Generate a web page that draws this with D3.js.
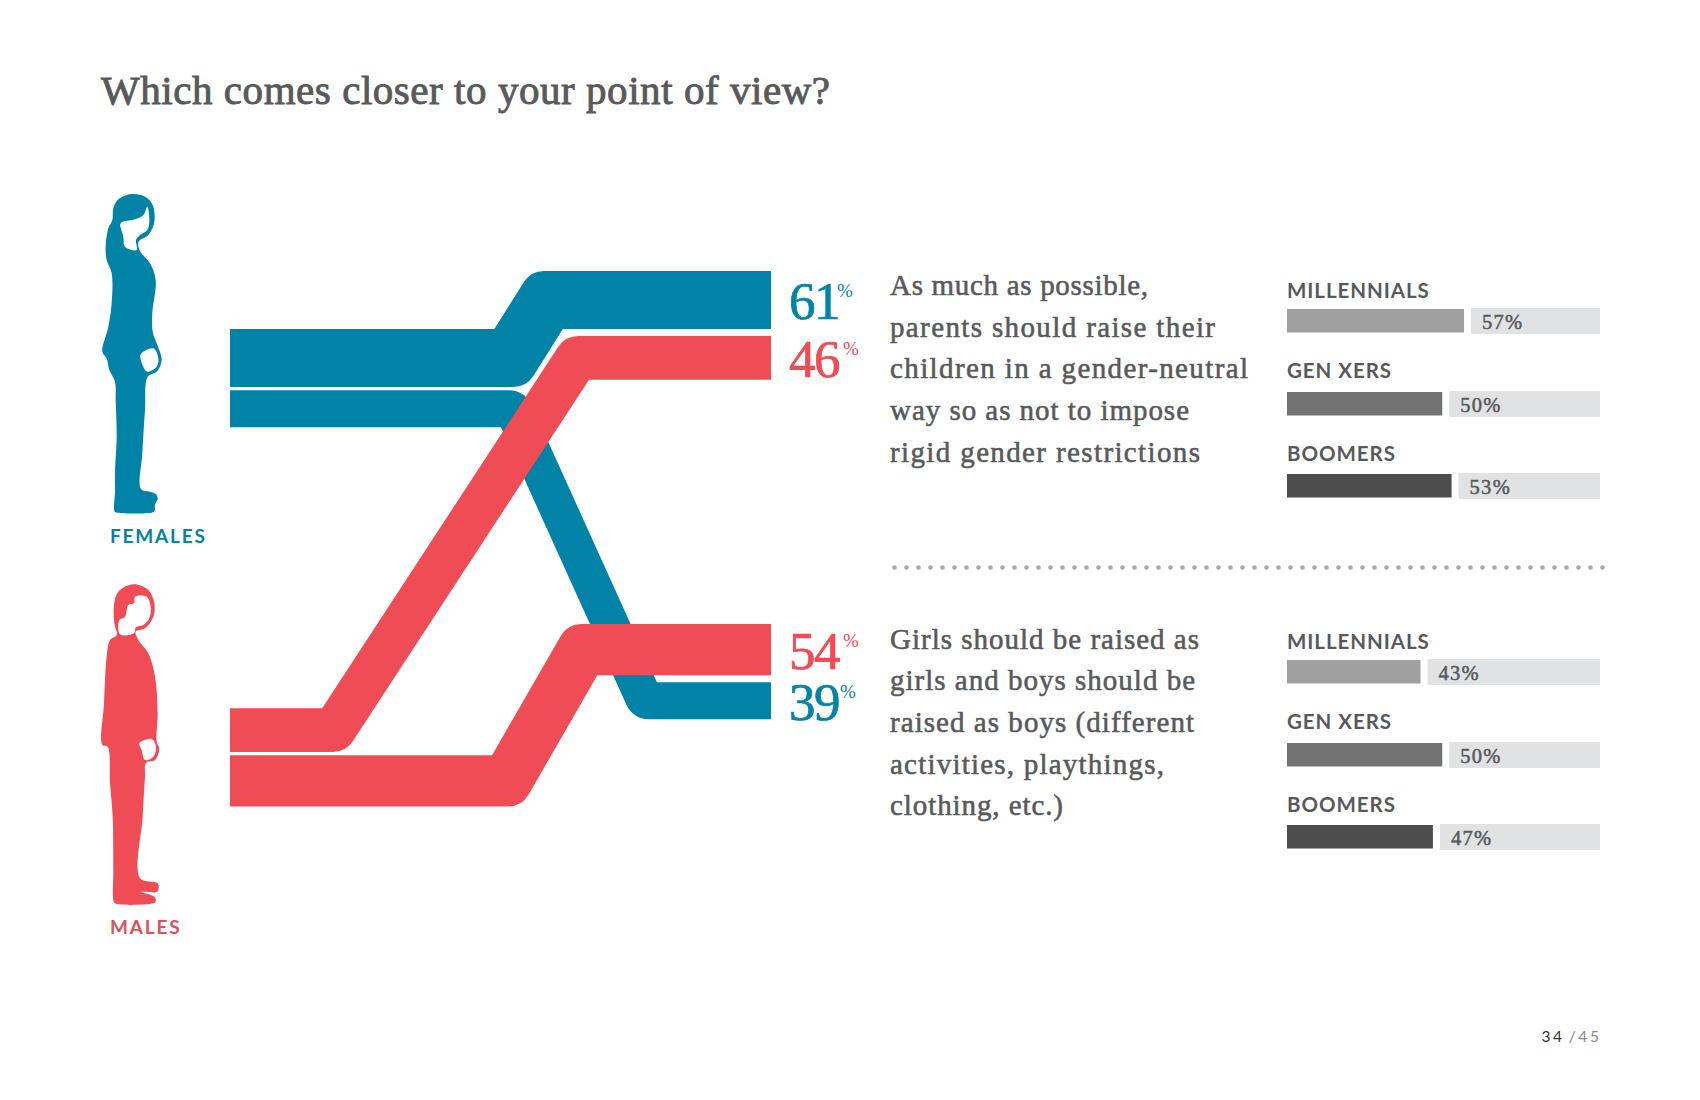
<!DOCTYPE html>
<html>

<head>
  <meta charset='utf-8'>
  <style>
    html, body { margin: 0; padding: 0; background: #fff; }
    svg { display: block; }
    .serif { font-family: 'Liberation Serif', serif; }
    .sans { font-family: Lato, 'Open Sans', sans-serif; }
  </style>
  <script src='https://cdn.jsdelivr.net/npm/d3@7'></script>
</head>

<body>

  <script type='module'>

    let [width, height] = [1700, 1100]

    let title = "Which comes closer to your point of view?"
    let genders = ["FEMALES", "MALES"]
    let femaleShare = [61, 39]
    let maleShare = [46, 54]
    let statements = [
      ["As much as possible,", "parents should raise their", "children in a gender-neutral", "way so as not to impose", "rigid gender restrictions"],
      ["Girls should be raised as", "girls and boys should be", "raised as boys (different", "activities, playthings,", "clothing, etc.)"]
    ]
    let cohorts = ["MILLENNIALS", "GEN XERS", "BOOMERS"]
    let neutralByCohort = [57, 50, 53]
    let differentByCohort = [43, 50, 47]
    let pageNow = "34"
    let pageAll = "/45"

    let teal = "#0083a7"
    let red = "#ef4c55"
    let ink = "#58595b"
    let cohortColor = d3.scaleOrdinal(cohorts, ["#a0a0a0", "#737373", "#4d4d4d"])

    let svg = d3.select("body")
      .append("svg")
      .attr("width", width)
      .attr("height", height)

    // title
    svg.append("text")
      .attr("class", "serif")
      .attr("x", 101)
      .attr("y", 103.5)
      .attr("font-size", 41)
      .attr("letter-spacing", 0.55)
      .attr("fill", ink)
      .attr("stroke", ink)
      .attr("stroke-width", 0.9)
      .text(title)

    // people, outlines traced in a 3x grid
    let femaleOutline = [[215, 72], [175, 88], [160, 115], [157, 150], [145, 175], [137, 230], [140, 270], [155, 310], [155, 400], [145, 470], [127, 545], [140, 565], [148, 600], [165, 635], [167, 690], [170, 800], [165, 905], [165, 965], [162, 1015], [164, 1025], [172, 1028], [275, 1028], [284, 1024], [285, 1003], [293, 988], [288, 973], [270, 965], [243, 957], [247, 850], [255, 720], [263, 620], [290, 605], [305, 570], [290, 520], [278, 485], [277, 430], [287, 330], [270, 280], [240, 243], [236, 215], [265, 195], [283, 155], [278, 105], [255, 80]]
    let femaleFace = [[182, 160], [225, 148], [250, 135], [262, 110], [268, 150], [262, 180], [240, 195], [228, 210], [230, 240], [195, 230], [190, 200]]
    let femaleHand = [[242, 553], [280, 535], [295, 565], [290, 590], [262, 605], [250, 590]]
    let maleOutline = [[220, 43], [175, 65], [162, 105], [163, 160], [170, 195], [150, 210], [140, 260], [132, 400], [127, 525], [143, 530], [150, 640], [158, 740], [160, 900], [160, 990], [165, 1000], [280, 1000], [287, 995], [285, 982], [270, 974], [243, 966], [290, 966], [295, 960], [293, 940], [240, 925], [248, 740], [255, 620], [258, 578], [285, 570], [298, 535], [290, 515], [293, 430], [285, 320], [265, 250], [235, 210], [227, 185], [255, 175], [280, 140], [283, 100], [265, 60]]
    let maleFace = [[225, 80], [260, 80], [272, 110], [268, 145], [250, 165], [228, 172], [222, 190], [180, 193], [178, 150], [195, 140], [205, 105], [222, 100]]
    let maleHand = [[238, 520], [275, 507], [288, 530], [280, 560], [255, 570], [245, 540]]

    let outline = d3.line().curve(d3.curveCatmullRomClosed.alpha(0.5))
    let person = (shapes, color, dx, dy) => svg.append("path")
      .attr("transform", `translate(${dx},${dy}) scale(${1 / 3})`)
      .attr("fill", color)
      .attr("fill-rule", "evenodd")
      .attr("d", shapes.map(outline).join(""))
    person([femaleOutline, femaleFace, femaleHand], teal, 60, 170)
    person([maleOutline, maleFace, maleHand], red, 60, 570)

    let genderLabels = [[110, 542.5, teal], [110, 934, "#dc505c"]]
    svg.selectAll(".gender")
      .data(genders)
      .enter()
      .append("text")
      .attr("class", "gender sans")
      .attr("x", (d, i) => genderLabels[i][0])
      .attr("y", (d, i) => genderLabels[i][1])
      .attr("font-size", 19)
      .attr("font-weight", 700)
      .attr("letter-spacing", 1.8)
      .attr("fill", (d, i) => genderLabels[i][2])
      .text(d => d)

    // ribbons: thickness comes from the share
    let thick = d3.scaleLinear([0, 100], [0, 95])
    let [xLeft, xRight] = [230, 771]
    let radius = 24

    let ribbon = ({ y0, y1, w, xa, xb }) => {
      let up = y1 < y0
      let dx = w / 2 * Math.tan(Math.atan2(Math.abs(y1 - y0), xb - xa) / 2)
      let p = d3.path()
      p.moveTo(xLeft, y0)
      if (up) p.lineTo(xa - dx, y0)
      else p.arcTo(xa + dx, y0, xb + dx, y1, radius)
      if (up) p.arcTo(xb - dx, y1, xRight, y1, radius)
      else p.lineTo(xb + dx, y1)
      p.lineTo(xRight, y1)
      p.lineTo(xRight, y1 + w)
      if (up) p.lineTo(xb + dx, y1 + w)
      else p.arcTo(xb - dx, y1 + w, xa - dx, y0 + w, radius)
      if (up) p.arcTo(xa + dx, y0 + w, xLeft, y0 + w, radius)
      else p.lineTo(xa - dx, y0 + w)
      p.lineTo(xLeft, y0 + w)
      p.closePath()
      return p.toString()
    }

    let [femaleTop, maleTop, neutralTop, differentTop] = [329, 708.3, 271, 624]
    let [leftGap, rightGap] = [3.2, 7]

    let ribbons = [
      { share: femaleShare[1], color: teal, y0: femaleTop + thick(femaleShare[0]) + leftGap, y1: differentTop + thick(maleShare[1]) + rightGap, xa: 512.9, xb: 645, pct: 840 },
      { share: femaleShare[0], color: teal, y0: femaleTop, y1: neutralTop, xa: 510.4, xb: 546.8, pct: 837 },
      { share: maleShare[0], color: red, y0: maleTop, y1: neutralTop + thick(femaleShare[0]) + rightGap, xa: 334, xb: 577.2, pct: 843 },
      { share: maleShare[1], color: red, y0: maleTop + thick(maleShare[0]) + leftGap, y1: differentTop, xa: 506.9, xb: 582.5, pct: 843 }
    ].map(d => ({ ...d, w: thick(d.share) }))

    svg.selectAll(".ribbon")
      .data(ribbons)
      .enter()
      .append("path")
      .attr("class", "ribbon")
      .attr("fill", d => d.color)
      .attr("d", ribbon)

    // big numbers at the end of each ribbon
    svg.selectAll(".share")
      .data(ribbons)
      .enter()
      .append("text")
      .attr("class", "share serif")
      .attr("x", 789)
      .attr("y", d => d.y1 + d.w / 2 + 19)
      .attr("font-size", 53)
      .attr("letter-spacing", -1.5)
      .attr("fill", d => d.color)
      .attr("stroke", d => d.color)
      .attr("stroke-width", 0.7)
      .text(d => d.share)

    svg.selectAll(".pct")
      .data(ribbons)
      .enter()
      .append("text")
      .attr("class", "pct serif")
      .attr("x", d => d.pct)
      .attr("y", d => d.y1 + d.w / 2 + 19 - 22)
      .attr("font-size", 19)
      .attr("fill", d => d.color)
      .text("%")

    // statements, each line fitted to its measured length
    let statementTop = [295, 648.5]
    let lineStep = 41.7
    let lineLengths = [[258, 325, 358, 299, 310], [309, 305, 304, 274, 173]]
    statements.forEach((lines, s) => {
      svg.selectAll(".line" + s)
        .data(lines)
        .enter()
        .append("text")
        .attr("class", "line" + s + " serif")
        .attr("x", 890)
        .attr("y", (d, i) => statementTop[s] + i * lineStep)
        .attr("font-size", 29)
        .attr("textLength", (d, i) => lineLengths[s][i])
        .attr("fill", ink)
        .attr("stroke", ink)
        .attr("stroke-width", 0.55)
        .text(d => d)
    })

    // dotted divider
    svg.selectAll(".dot")
      .data(d3.range(894.5, 1604, 12))
      .enter()
      .append("circle")
      .attr("class", "dot")
      .attr("cx", d => d)
      .attr("cy", 567.5)
      .attr("r", 2.3)
      .attr("fill", "#aaaaab")

    // cohort bars
    let x = d3.scaleLinear([0, 100], [1287, 1597.5])
    let trackEnd = 1600
    let labelOffset = [0, 79.5, 163]
    let barOffset = [11, 94, 176]

    let cohortGroup = (values, base) => {
      let g = svg.append("g").attr("transform", `translate(0,${base})`)
      g.selectAll(".track")
        .data(values)
        .enter()
        .append("rect")
        .attr("fill", "#e1e2e3")
        .attr("x", d => x(d) + 7)
        .attr("y", (d, i) => barOffset[i] - 1)
        .attr("width", d => trackEnd - x(d) - 7)
        .attr("height", 26)
      g.selectAll(".bar")
        .data(values)
        .enter()
        .append("rect")
        .attr("fill", (d, i) => cohortColor(cohorts[i]))
        .attr("x", x(0))
        .attr("y", (d, i) => barOffset[i])
        .attr("width", d => x(d) - x(0))
        .attr("height", 23.5)
      g.selectAll(".cohort")
        .data(cohorts)
        .enter()
        .append("text")
        .attr("class", "sans")
        .attr("x", x(0))
        .attr("y", (d, i) => labelOffset[i])
        .attr("font-size", 20.5)
        .attr("font-weight", 700)
        .attr("letter-spacing", 0.95)
        .attr("fill", ink)
        .text(d => d)
      g.selectAll(".value")
        .data(values)
        .enter()
        .append("text")
        .attr("class", "serif")
        .attr("x", d => x(d) + 18)
        .attr("y", (d, i) => barOffset[i] + 19.5)
        .attr("font-size", 20.5)
        .attr("letter-spacing", 1.3)
        .attr("fill", ink)
        .attr("stroke", ink)
        .attr("stroke-width", 0.5)
        .text(d => d + "%")
    }
    cohortGroup(neutralByCohort, 298)
    cohortGroup(differentByCohort, 649)

    // page number
    let page = svg.append("text")
      .attr("class", "sans")
      .attr("x", 1541.5)
      .attr("y", 1042)
      .attr("font-size", 15.5)
      .attr("letter-spacing", 2.6)
    page.append("tspan").attr("fill", "#333").text(pageNow)
    page.append("tspan").attr("fill", "#8a8a8a").attr("dx", 4).text(pageAll)
  </script>
</body>

</html>
